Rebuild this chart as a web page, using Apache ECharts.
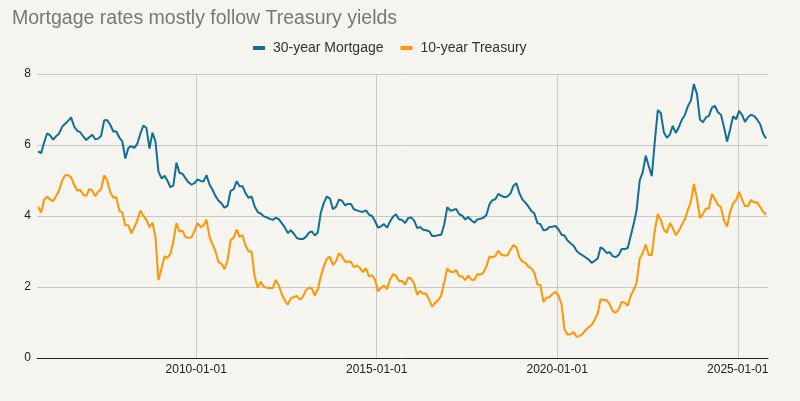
<!DOCTYPE html>
<html>
<head>
<meta charset="utf-8">
<script src="https://cdn.jsdelivr.net/npm/echarts@6/dist/echarts.min.js"></script>
<style>
  html, body { margin: 0; padding: 0; background: #f5f4ef; }
  #chart { width: 800px; height: 401px; }
</style>
</head>
<body>
<div id="chart"></div>
<script>
// monthly values, first month is Aug 2005
const startYear = 2005;
const startMonth = 8;

const mortgageRates = [
  5.82, 5.77, 6.07, 6.33, 6.27,                                      // 2005 Aug-Dec
  6.15, 6.25, 6.32, 6.51, 6.60, 6.68, 6.78, 6.52, 6.40, 6.36, 6.24, 6.14, // 2006
  6.22, 6.29, 6.16, 6.18, 6.26, 6.70, 6.70, 6.57, 6.38, 6.38, 6.21, 6.10, // 2007
  5.62, 5.92, 5.97, 5.92, 6.04, 6.32, 6.55, 6.48, 5.90, 6.35, 6.09, 5.25, // 2008
  5.06, 5.13, 5.00, 4.81, 4.86, 5.50, 5.22, 5.19, 5.06, 4.95, 4.88, 4.93, // 2009
  5.03, 4.99, 4.97, 5.15, 4.89, 4.74, 4.56, 4.43, 4.35, 4.23, 4.30, 4.71, // 2010
  4.76, 4.98, 4.84, 4.84, 4.64, 4.51, 4.55, 4.27, 4.11, 4.07, 3.99, 3.96, // 2011
  3.92, 3.89, 3.95, 3.91, 3.80, 3.68, 3.52, 3.60, 3.50, 3.38, 3.35, 3.35, // 2012
  3.41, 3.53, 3.57, 3.45, 3.54, 4.10, 4.37, 4.55, 4.49, 4.19, 4.26, 4.46, // 2013
  4.43, 4.30, 4.34, 4.34, 4.19, 4.16, 4.13, 4.12, 4.16, 4.04, 4.00, 3.86, // 2014
  3.67, 3.71, 3.77, 3.67, 3.84, 3.98, 4.05, 3.91, 3.89, 3.80, 3.94, 3.96, // 2015
  3.87, 3.66, 3.69, 3.61, 3.60, 3.57, 3.44, 3.44, 3.46, 3.47, 3.77, 4.25, // 2016
  4.15, 4.17, 4.20, 4.05, 4.01, 3.90, 3.97, 3.88, 3.81, 3.90, 3.92, 3.95, // 2017
  4.03, 4.33, 4.44, 4.47, 4.62, 4.57, 4.53, 4.55, 4.63, 4.85, 4.92, 4.64, // 2018
  4.46, 4.37, 4.27, 4.14, 4.07, 3.80, 3.77, 3.60, 3.61, 3.69, 3.70, 3.72, // 2019
  3.62, 3.47, 3.45, 3.31, 3.23, 3.16, 3.02, 2.94, 2.89, 2.83, 2.77, 2.68, // 2020
  2.74, 2.81, 3.12, 3.06, 2.96, 2.98, 2.87, 2.84, 2.90, 3.07, 3.07, 3.10, // 2021
  3.45, 3.80, 4.17, 5.00, 5.23, 5.70, 5.41, 5.12, 6.11, 6.98, 6.90, 6.36, // 2022
  6.20, 6.30, 6.54, 6.34, 6.50, 6.71, 6.84, 7.09, 7.25, 7.72, 7.44, 6.72, // 2023
  6.64, 6.78, 6.82, 7.05, 7.10, 6.92, 6.85, 6.50, 6.10, 6.43, 6.81, 6.72, // 2024
  6.96, 6.84, 6.65, 6.78, 6.85, 6.82, 6.72, 6.59, 6.32, 6.18              // 2025 Jan-Oct
];

const treasuryYields = [
  4.26, 4.10, 4.46, 4.54, 4.47,                                      // 2005 Aug-Dec
  4.42, 4.57, 4.72, 4.99, 5.15, 5.15, 5.09, 4.88, 4.72, 4.73, 4.60, 4.56, // 2006
  4.76, 4.72, 4.56, 4.69, 4.75, 5.15, 5.00, 4.67, 4.52, 4.53, 4.15, 4.10, // 2007
  3.74, 3.74, 3.51, 3.68, 3.88, 4.15, 4.01, 3.89, 3.69, 3.81, 3.40, 2.20, // 2008
  2.52, 2.87, 2.82, 2.93, 3.29, 3.80, 3.56, 3.59, 3.40, 3.39, 3.40, 3.59, // 2009
  3.80, 3.69, 3.73, 3.90, 3.42, 3.20, 3.01, 2.70, 2.65, 2.50, 2.76, 3.32, // 2010
  3.39, 3.62, 3.41, 3.46, 3.17, 3.00, 3.00, 2.30, 1.98, 2.15, 2.01, 1.98, // 2011
  1.97, 1.97, 2.20, 2.05, 1.80, 1.62, 1.50, 1.68, 1.72, 1.75, 1.65, 1.72, // 2012
  1.91, 1.98, 1.96, 1.76, 1.93, 2.30, 2.58, 2.80, 2.85, 2.62, 2.72, 2.95, // 2013
  2.86, 2.71, 2.72, 2.71, 2.56, 2.60, 2.54, 2.42, 2.53, 2.30, 2.33, 2.21, // 2014
  1.88, 1.98, 2.04, 1.94, 2.20, 2.36, 2.32, 2.17, 2.17, 2.07, 2.26, 2.24, // 2015
  2.09, 1.78, 1.89, 1.81, 1.81, 1.64, 1.45, 1.56, 1.63, 1.76, 2.14, 2.52, // 2016
  2.43, 2.42, 2.48, 2.30, 2.30, 2.19, 2.32, 2.21, 2.20, 2.36, 2.35, 2.40, // 2017
  2.58, 2.86, 2.84, 2.87, 3.02, 2.91, 2.89, 2.89, 3.05, 3.18, 3.12, 2.83, // 2018
  2.71, 2.68, 2.57, 2.53, 2.40, 2.07, 2.06, 1.58, 1.70, 1.71, 1.81, 1.86, // 2019
  1.76, 1.50, 0.80, 0.66, 0.67, 0.73, 0.60, 0.62, 0.68, 0.79, 0.87, 0.93, // 2020
  1.08, 1.26, 1.65, 1.64, 1.62, 1.52, 1.32, 1.28, 1.37, 1.58, 1.56, 1.47, // 2021
  1.76, 1.93, 2.13, 2.80, 2.95, 3.20, 2.90, 2.90, 3.60, 4.05, 3.89, 3.62, // 2022
  3.53, 3.80, 3.66, 3.46, 3.57, 3.75, 3.90, 4.17, 4.40, 4.90, 4.50, 3.95, // 2023
  4.06, 4.21, 4.21, 4.62, 4.48, 4.31, 4.25, 3.87, 3.70, 4.10, 4.36, 4.45, // 2024
  4.68, 4.45, 4.28, 4.28, 4.45, 4.38, 4.39, 4.26, 4.12, 4.04              // 2025 Jan-Oct
];

const xTickLabels = ['2010-01-01', '2015-01-01', '2020-01-01', '2025-01-01'];
const yTicks = [0, 2, 4, 6, 8];

const dates = mortgageRates.map((_, i) => {
  const m = startMonth - 1 + i;
  return Date.UTC(startYear + Math.floor(m / 12), m % 12, 15);
});
const toPairs = (values) => values.map((v, i) => [dates[i], v]);
const tickTimes = xTickLabels.map((s) => Date.UTC(+s.slice(0, 4), 0, 1));

const chart = echarts.init(document.getElementById('chart'));
chart.setOption({
  backgroundColor: '#f5f4ef',
  animation: false,
  textStyle: { fontFamily: '"Liberation Sans", Arial, sans-serif' },
  title: {
    text: 'Mortgage rates mostly follow Treasury yields',
    left: 7,
    top: 4,
    textStyle: { fontSize: 19.5, fontWeight: 'normal', color: '#777777' },
  },
  legend: {
    top: 36,
    left: 248,
    icon: 'rect',
    itemWidth: 12,
    itemHeight: 4,
    itemGap: 17,
    textStyle: { fontSize: 14, color: '#333333', padding: [0, 0, 0, 3] },
  },
  grid: { left: 37, right: 32, top: 74, bottom: 43 },
  xAxis: {
    type: 'value',
    min: Date.UTC(2005, 7, 4),
    max: Date.UTC(2025, 10, 3),
    axisLine: { onZero: false, lineStyle: { color: '#222222', width: 1 } },
    axisTick: { show: false, customValues: tickTimes },
    axisLabel: {
      customValues: tickTimes,
      color: '#222222',
      fontSize: 12,
      margin: 6,
      formatter: (v) => xTickLabels[tickTimes.indexOf(v)] || '',
    },
    splitLine: { show: true, lineStyle: { color: '#c8c8c8', width: 1 } },
  },
  yAxis: {
    type: 'value',
    min: yTicks[0],
    max: yTicks[yTicks.length - 1],
    interval: 2,
    axisLine: { show: false },
    axisTick: { show: false },
    axisLabel: { color: '#222222', fontSize: 12, margin: 6 },
    splitLine: { lineStyle: { color: '#c8c8c8', width: 1 } },
  },
  series: [
    {
      name: '30-year Mortgage',
      type: 'line',
      data: toPairs(mortgageRates),
      showSymbol: false,
      lineStyle: { color: '#0f6f97', width: 2 },
      itemStyle: { color: '#0f6f97' },
    },
    {
      name: '10-year Treasury',
      type: 'line',
      data: toPairs(treasuryYields),
      showSymbol: false,
      lineStyle: { color: '#ff9500', width: 2 },
      itemStyle: { color: '#ff9500' },
    },
  ],
});
</script>
</body>
</html>
